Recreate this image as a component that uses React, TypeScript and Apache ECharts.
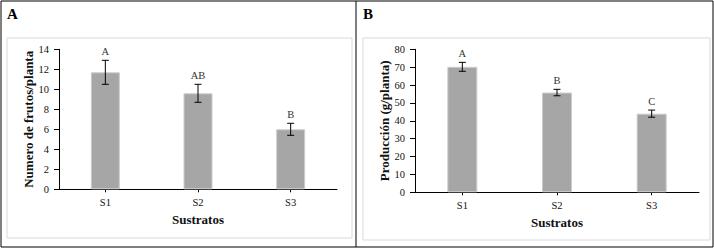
import React, { useEffect, useRef } from "react";
import * as echarts from "echarts";

const categories = ["S1", "S2", "S3"];
const frutosValues = [11.7, 9.6, 6.0];
const frutosErrors = [1.2, 0.9, 0.6];
const frutosLetters = ["A", "AB", "B"];
const produccionValues = [70.2, 55.8, 44.0];
const produccionErrors = [2.5, 1.8, 2.0];
const produccionLetters = ["A", "B", "C"];
const frutosTicks = { min: 0, max: 14, interval: 2 };
const produccionTicks = { min: 0, max: 80, interval: 10 };

const FONT = "'Liberation Serif', 'Times New Roman', serif";
const TXT = "#111";

function errRender(params: any, api: any) {
  const x = api.value(0);
  const v = api.value(1);
  const e = api.value(2);
  const letter = api.value(3);
  const top = api.coord([x, v + e]);
  const bot = api.coord([x, v - e]);
  const cap = 3.5;
  const style = { stroke: "#000", lineWidth: 1 };
  return {
    type: "group",
    children: [
      { type: "line", shape: { x1: top[0], y1: top[1], x2: bot[0], y2: bot[1] }, style },
      { type: "line", shape: { x1: top[0] - cap, y1: top[1], x2: top[0] + cap, y2: top[1] }, style },
      { type: "line", shape: { x1: bot[0] - cap, y1: bot[1], x2: bot[0] + cap, y2: bot[1] }, style },
      {
        type: "text",
        style: {
          text: String(letter),
          x: top[0],
          y: top[1] - 3,
          align: "center",
          verticalAlign: "bottom",
          fontFamily: FONT,
          fontSize: 10.5,
          fill: "#333",
        },
      },
    ],
  };
}

function buildErr(values: number[], errs: number[], letters: string[]) {
  return values.map((v, i) => [i, v, errs[i], letters[i]]);
}

export default function App() {
  const ref = useRef<HTMLDivElement>(null);
  useEffect(() => {
    if (!ref.current) return;
    const chart = echarts.init(ref.current, null, { renderer: "svg" });
    const xAxisBase = (gridIndex: number, nameGap: number, labelMargin: number) => ({
      type: "category",
      gridIndex,
      data: categories,
      name: "Sustratos",
      nameLocation: "middle",
      nameGap,
      nameTextStyle: { fontFamily: FONT, fontSize: 13, fontWeight: "bold", color: TXT },
      axisLine: { lineStyle: { color: "#000", width: 1 } },
      axisTick: { show: true, alignWithLabel: true, length: 3, lineStyle: { color: "#000" } },
      axisLabel: { fontFamily: FONT, fontSize: 10.5, color: TXT, margin: labelMargin },
      splitLine: { show: false },
    });
    const yAxisBase = (gridIndex: number, name: string, t: any) => ({
      type: "value",
      gridIndex,
      min: t.min,
      max: t.max,
      interval: t.interval,
      name,
      nameLocation: "middle",
      nameGap: 24,
      nameTextStyle: { fontFamily: FONT, fontSize: 13, fontWeight: "bold", color: TXT },
      axisLine: { show: true, lineStyle: { color: "#000", width: 1 } },
      axisTick: { show: true, length: 5, lineStyle: { color: "#000" } },
      axisLabel: { fontFamily: FONT, fontSize: 10.5, color: TXT, margin: 10 },
      splitLine: { show: false },
    });
    const barStyle = { color: "#a6a6a6", borderColor: "#cccccc", borderWidth: 1 };
    chart.setOption({
      animation: false,
      backgroundColor: "#fff",
      grid: [
        { left: 59, right: 377, top: 49.3, bottom: 59.7 },
        { left: 415, right: 15, top: 49.3, bottom: 56.7 },
      ],
      xAxis: [xAxisBase(0, 24, 8), xAxisBase(1, 24, 8)],
      yAxis: [
        yAxisBase(0, "Numero de frutos/planta", frutosTicks),
        yAxisBase(1, "Producción (g/planta)", produccionTicks),
      ],
      graphic: [
        { type: "rect", shape: { x: 1, y: 1, width: 712, height: 246 }, style: { fill: "none", stroke: "#000", lineWidth: 1 }, silent: true, z: 0 },
        { type: "line", shape: { x1: 356, y1: 1, x2: 356, y2: 247 }, style: { stroke: "#000", lineWidth: 1 }, silent: true },
        { type: "rect", shape: { x: 7, y: 38, width: 345, height: 200 }, style: { fill: "none", stroke: "#d9d9d9", lineWidth: 1 }, silent: true },
        { type: "rect", shape: { x: 363, y: 38, width: 347, height: 202 }, style: { fill: "none", stroke: "#d9d9d9", lineWidth: 1 }, silent: true },
        { type: "text", left: 7, top: 6, style: { text: "A", fontFamily: FONT, fontSize: 15, fontWeight: "bold", fill: "#000" } },
        { type: "text", left: 363, top: 6, style: { text: "B", fontFamily: FONT, fontSize: 15, fontWeight: "bold", fill: "#000" } },
      ],
      series: [
        { type: "bar", xAxisIndex: 0, yAxisIndex: 0, data: frutosValues, barWidth: 29, itemStyle: barStyle },
        { type: "bar", xAxisIndex: 1, yAxisIndex: 1, data: produccionValues, barWidth: 30, itemStyle: barStyle },
        {
          type: "custom",
          xAxisIndex: 0,
          yAxisIndex: 0,
          renderItem: errRender,
          data: buildErr(frutosValues, frutosErrors, frutosLetters),
          encode: { x: 0, y: 1 },
          z: 5,
        },
        {
          type: "custom",
          xAxisIndex: 1,
          yAxisIndex: 1,
          renderItem: errRender,
          data: buildErr(produccionValues, produccionErrors, produccionLetters),
          encode: { x: 0, y: 1 },
          z: 5,
        },
      ],
    });
    return () => chart.dispose();
  }, []);
  return (
    <div
      ref={ref}
      style={{ position: "fixed", left: 0, top: 0, width: 714, height: 249 }}
    />
  );
}
